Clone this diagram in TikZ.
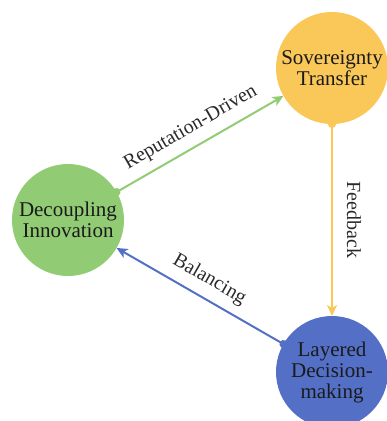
\documentclass[tikz,border=0pt]{standalone}
\usepackage{fontspec}
\setmainfont{Liberation Serif}
\usetikzlibrary{arrows.meta}
\definecolor{egreen}{HTML}{91CC75}
\definecolor{eyellow}{HTML}{FAC858}
\definecolor{eblue}{HTML}{5470C6}
\definecolor{txt}{HTML}{1A1A1A}
\definecolor{etxt}{HTML}{2A2A2A}
\begin{document}
\begin{tikzpicture}[x=1pt,y=-1pt,
  hub/.style={circle, minimum size=112pt, inner sep=0pt, outer sep=0pt, align=center,
    font=\fontsize{21}{21}\selectfont, text=txt},
  link/.style={line width=2pt, {Circle[length=8pt]}-{Stealth[length=11pt,width=10pt,inset=3pt]},
    shorten <=-4pt},
  lab/.style={font=\fontsize{20}{21}\selectfont, text=etxt, inner sep=0pt}]
\useasboundingbox (0,0) rectangle (387,421);
\clip (0,0) rectangle (387,421);
\node[hub, fill=eyellow] (sov) at (332,68) {Sovereignty\\Transfer};
\node[hub, fill=egreen] (dec) at (68,220) {Decoupling\\Innovation};
\node[hub, fill=eblue] (lay) at (332,372) {Layered\\Decision-\\making};
\draw[link, egreen] (dec) -- node[lab, sloped, anchor=base, yshift=14pt] (l1) {Reputation-Driven} (sov);
\draw[link, eyellow] (sov) -- node[lab, rotate=-90, anchor=base, yshift=15pt] (l2) {Feedback} (lay);
\draw[link, eblue] (lay) -- node[lab, sloped, anchor=base, yshift=14pt] (l3) {Balancing} (dec);
\end{tikzpicture}
\end{document}
